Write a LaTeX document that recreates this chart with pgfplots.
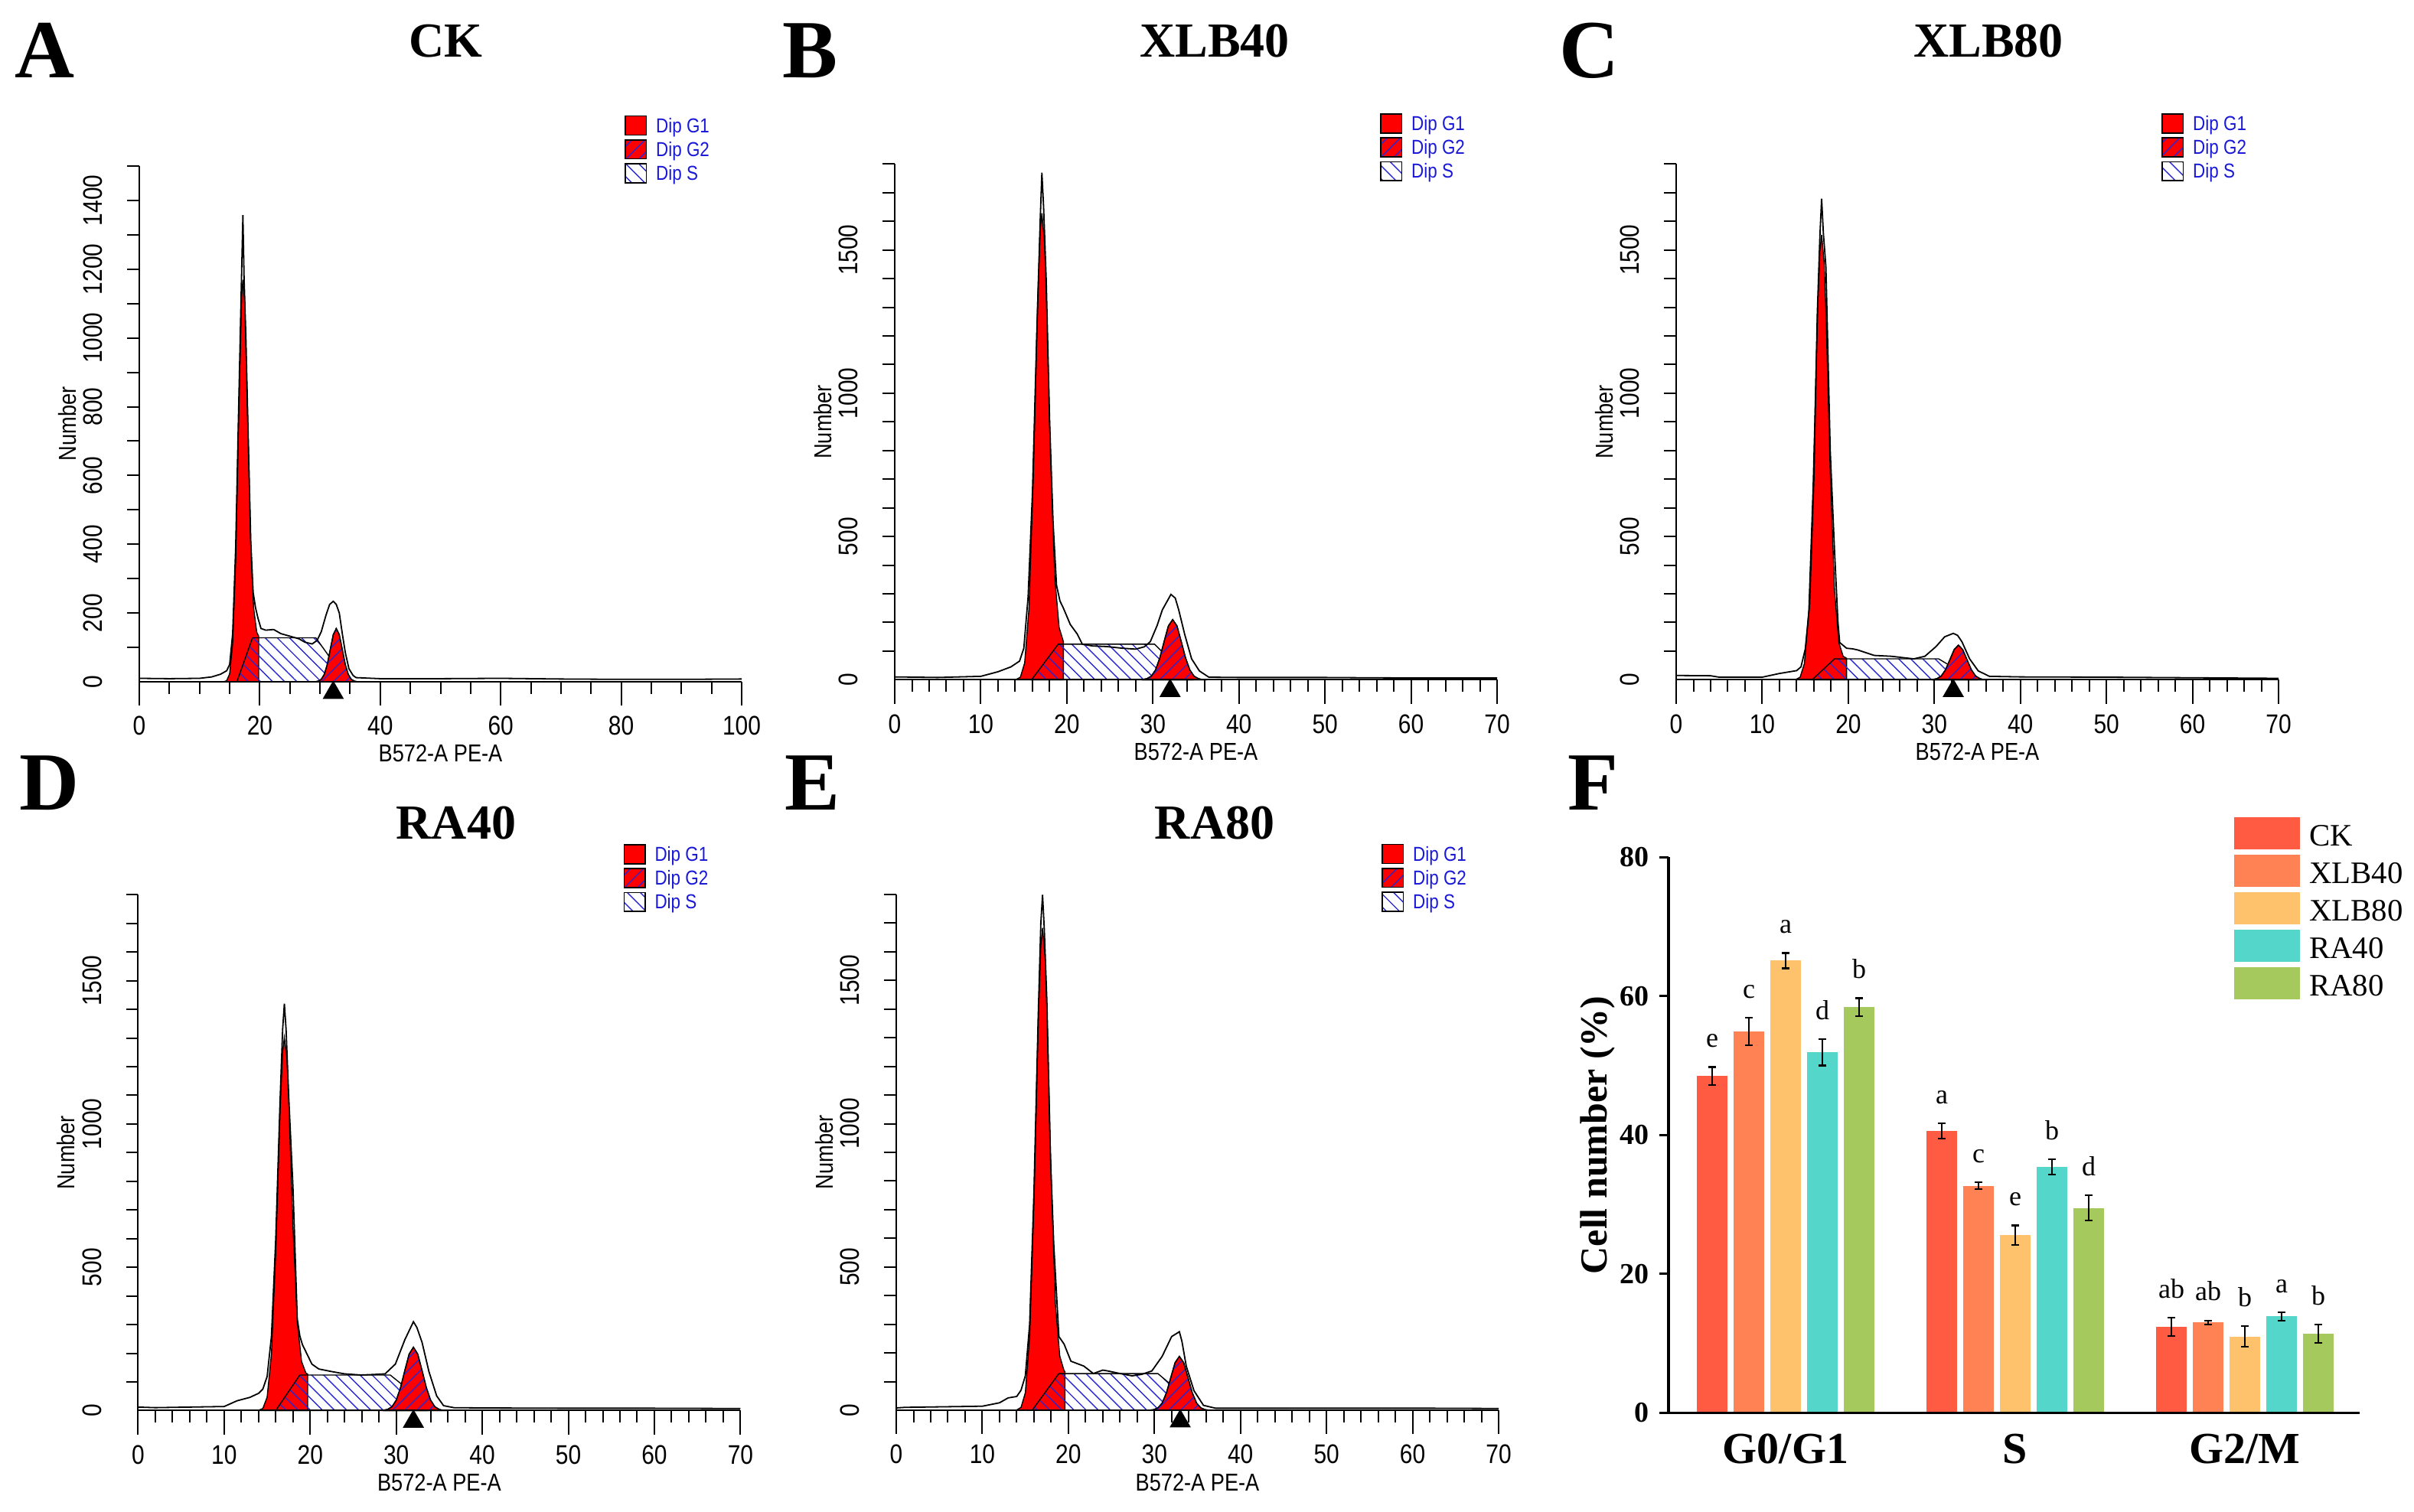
\documentclass[border=0pt]{standalone}
\usepackage{fontspec}
\setmainfont{Liberation Serif}
\newfontfamily\histfont[FakeStretch=0.85]{Liberation Sans}
\usepackage{pgfplots}
\pgfplotsset{compat=1.18}
\usepackage{pgfplotstable}
\usetikzlibrary{patterns.meta}

\definecolor{ckc}{RGB}{255,90,66}
\definecolor{x4c}{RGB}{255,130,84}
\definecolor{x8c}{RGB}{254,193,108}
\definecolor{r4c}{RGB}{84,214,202}
\definecolor{r8c}{RGB}{166,201,94}
\definecolor{legblue}{RGB}{25,25,215}
\definecolor{hatchblue}{RGB}{40,40,210}

% ---------------- histogram data ----------------
\pgfplotstableread{
x y
0 10
5 9
10 10
12 14
13.5 22
14.5 32
15 50
15.5 140
16 390
16.5 800
17 1200
17.2 1357
17.4 1170
17.7 1000
18 770
18.5 410
18.9 260
19.3 215
19.7 185
20.2 155
21 150
22.3 152
23.5 140
24.5 135
25.5 130
26.5 125
27.5 115
28.7 110
29.5 120
30.2 145
31 194
31.6 225
32.2 234
32.7 225
33.2 200
33.7 140
34.2 85
34.8 38
35.5 18
36 12
40 9
50 9
60 10
70 8
80 7
90 7
100 8
}\Ad
\pgfplotstableread{
x y
14 0
14.5 3
15 23
15.5 111
16 353
16.5 771
17 1123
17.2 1169
17.5 1105
18 760
18.5 402
18.8 272
19 212
19.5 144
19.8 133
19.8 0
}\Ag
\pgfplotstableread{
x y
16.2 0
18.8 128
29.3 128
31.1 84
33 35
34.5 0
}\As
\pgfplotstableread{
x y
29.2 0
29.7 2
30.2 7
30.7 21
31.2 50
31.7 94
32.2 137
32.7 155
33.2 137
33.7 94
34.2 50
34.7 21
35.2 7
35.7 2
36.2 0
}\Ah

\pgfplotstableread{
x y
0 10
5 8
10 12
12 28
13.5 45
14.5 65
15 110
15.5 290
16 650
16.5 1200
16.9 1600
17.1 1770
17.3 1650
17.6 1400
18 900
18.4 550
18.8 330
19.2 275
19.6 250
20.4 193
21.2 160
21.8 124
23 118
24.6 116
26.5 110
28 107
29 115
29.7 133
30.5 190
31.1 244
32.1 298
32.6 285
33 244
33.7 158
34.5 73
35.4 31
36.5 9
40 8
50 8
55 7
62 6
70 6
}\Bd
\pgfplotstableread{
x y
14.1 1
14.6 9
15.1 59
15.6 249
16.1 703
16.6 1314
16.9 1569
17.1 1628
17.4 1528
17.6 1354
18.1 783
18.6 357
19.1 183
19.6 133
19.6 0
}\Bg
\pgfplotstableread{
x y
15.9 0
19 124
30.2 124
31.5 85
33.2 32
34.5 0
}\Bs
\pgfplotstableread{
x y
28.8 1
29.3 4
29.8 12
30.3 34
30.8 76
31.3 133
31.8 188
32.3 210
32.8 188
33.3 133
33.8 76
34.3 34
34.8 12
35.3 4
35.8 0
}\Bh

\pgfplotstableread{
x y
0 15
4 14
5 9
10 9
12 22
14 32
14.5 45
15 107
15.5 260
16 700
16.4 1280
16.7 1550
16.9 1679
17.1 1560
17.4 1440
17.9 800
18.4 450
18.8 200
19 130
19.8 110
20.5 108
21.1 104
22 95
23 85
25 82
27.6 73
28.9 82
30.2 116
31.2 150
32.2 162
32.7 155
33.2 133
34.1 73
35.1 31
36.4 12
40 10
50 9
60 7
70 5
}\Cd
\pgfplotstableread{
x y
13.9 1
14.4 9
14.9 57
15.4 239
15.9 673
16.4 1256
16.7 1498
16.9 1553
17.2 1453
17.4 1284
17.9 729
18.4 312
18.9 130
19.4 82
19.8 75
19.8 0
}\Cg
\pgfplotstableread{
x y
15.8 0
18.4 73
30.5 73
31.5 55
33 25
34.8 0
}\Cs
\pgfplotstableread{
x y
29.8 1
30.3 4
30.8 13
31.3 35
31.8 70
32.3 105
32.8 121
33.3 105
33.8 70
34.3 35
34.8 13
35.3 4
35.8 0
}\Ch

\pgfplotstableread{
x y
0 12
2 10
10 14
11.5 34
13 46
14 60
14.5 75
15 119
15.5 260
16 600
16.5 1080
16.8 1330
17 1420
17.2 1330
17.5 1100
18 780
18.5 320
18.8 260
19.1 230
20.2 162
21 145
22.5 136
24 128
25.9 124
27.5 126
28.7 128
29.9 162
31 247
32 310
32.4 290
33 238
33.8 136
34.7 51
35.5 17
36.7 10
40 9
50 8
60 8
70 7
}\Dd
\pgfplotstableread{
x y
14 1
14.5 7
15 47
15.5 198
16 554
16.5 1046
16.8 1253
17 1302
17.3 1227
17.5 1090
18 643
18.5 309
19 171
19.5 131
19.7 127
19.7 0
}\Dg
\pgfplotstableread{
x y
16 0
18.8 124
29.3 124
30.5 95
32 50
33.5 0
}\Ds
\pgfplotstableread{
x y
28.5 1
29 4
29.5 13
30 36
30.5 80
31 140
31.5 197
32 221
32.5 197
33 140
33.5 80
34 36
34.5 13
35 4
35.5 0
}\Dh

\pgfplotstableread{
x y
0 8
1 10
10 14
12 26
13 43
14 48
14.5 70
15 120
15.5 300
16 760
16.5 1380
16.8 1700
17 1799
17.2 1680
17.5 1430
17.9 900
18.3 580
18.9 257
19.5 231
20.3 171
21.8 154
22.9 128
24 140
24.6 137
26 128
27.4 120
28.5 125
29.7 137
30.9 188
32 257
32.9 274
33.2 240
33.7 154
34.6 68
35.7 17
37.1 7
40 7
50 7
62 7
70 6
}\Ed
\pgfplotstableread{
x y
14 1
14.5 10
15 61
15.5 256
16 727
16.5 1358
16.8 1622
17 1683
17.3 1579
17.5 1399
18 810
18.5 368
19 189
19.5 138
19.6 135
19.6 0
}\Eg
\pgfplotstableread{
x y
15.8 0
18.9 128
30.4 128
31.5 100
33 50
34.5 0
}\Es
\pgfplotstableread{
x y
29.4 0
29.9 2
30.4 8
30.9 25
31.4 61
31.9 114
32.4 166
32.9 188
33.4 166
33.9 114
34.4 61
34.9 25
35.4 8
35.9 2
36.4 0
}\Eh

% ---------------- bar data ----------------
\pgfplotstableread{
x y err lab
-0.32 48.5 1.3 e
0.68 40.6 1.1 a
1.68 12.4 1.3 ab
}\tCK
\pgfplotstableread{
x y err lab
-0.16 54.9 2.0 c
0.84 32.7 0.5 c
1.84 13.0 0.3 ab
}\tXf
\pgfplotstableread{
x y err lab
0 65.1 1.1 a
1 25.6 1.4 e
2 11.0 1.5 b
}\tXe
\pgfplotstableread{
x y err lab
0.16 51.9 1.9 d
1.16 35.4 1.1 b
2.16 13.9 0.6 a
}\tRf
\pgfplotstableread{
x y err lab
0.32 58.4 1.3 b
1.32 29.5 1.8 d
2.32 11.4 1.3 b
}\tRe

\pgfplotsset{
  hist/.style={
    scale only axis, width=196.75pt, height=168.5pt,
    anchor=south west, clip=false, axis on top,
    axis x line=bottom, axis y line=left,
    axis line style={-, line width=0.5pt, black},
    tick align=outside,
    major tick length=7.8pt, minor tick length=3.9pt,
    tick style={line width=0.5pt, black},
    every major y tick/.append style={draw=none},
    extra y ticks={0}, extra y tick labels={},
    extra y tick style={draw=black, line width=0.5pt},
    xmin=0, ymin=0,
    /pgf/number format/assume math mode=true,
    /pgf/number format/1000 sep={},
    tick label style={font=\histfont\fontsize{8.8}{9}\selectfont},
    yticklabel style={rotate=90, anchor=south, yshift=0.6pt},
    xlabel={B572-A PE-A}, ylabel={Number},
    every axis x label/.style={at={([yshift=-23.5pt]axis description cs:0.5,0)}, anchor=center, font=\histfont\fontsize{8}{9}\selectfont},
    every axis y label/.style={at={([xshift=-23.6pt]axis description cs:0,0.5)}, anchor=center, rotate=90, font=\histfont\fontsize{8}{9}\selectfont},
    legend cell align=left,
    legend style={at={(0.805,1.10)}, anchor=north west, draw=none, fill=none,
      inner sep=0pt, row sep=1pt, font=\histfont\fontsize{6.6}{7}\selectfont,
      nodes={inner sep=0pt, text height=5.7pt, text depth=1.1pt, text=legblue},
      /tikz/every odd column/.append style={column sep=3pt}},
  },
  g1/.style={fill=red, draw=black, line width=0.35pt, forget plot},
  sS/.style={draw=black, line width=0.35pt, pattern={Lines[angle=-45,distance=2.8pt,line width=0.35pt]}, pattern color=hatchblue, forget plot},
  g2/.style={fill=red, draw=black, line width=0.35pt, postaction={pattern={Lines[angle=45,distance=2.8pt,line width=0.35pt]}, pattern color=hatchblue}, forget plot},
  dline/.style={black, line width=0.45pt, forget plot},
  tri/.style={only marks, mark=triangle*, mark size=3.6pt, black, mark options={yshift=-3.6pt}, forget plot},
  g1leg/.style={legend image code/.code={\filldraw[fill=red,draw=black,line width=0.4pt] (0pt,-3.1pt) rectangle (6.8pt,3.1pt);}},
  g2leg/.style={legend image code/.code={\filldraw[fill=red,draw=black,line width=0.4pt,postaction={pattern={Lines[angle=45,distance=3pt,line width=0.35pt]},pattern color=hatchblue}] (0pt,-3.1pt) rectangle (6.8pt,3.1pt);}},
  sleg/.style={legend image code/.code={\draw[black,line width=0.4pt,pattern={Lines[angle=-45,distance=3pt,line width=0.35pt]},pattern color=hatchblue] (0pt,-3.1pt) rectangle (6.8pt,3.1pt);}},
  fleg/.style={legend image code/.code={\fill[#1] (0pt,-5.1pt) rectangle (21.25pt,5.1pt);}},
  fbar/.style={ycomb, draw=#1, line width=10.1pt, forget plot,
    error bars/.cd, y dir=both, y explicit,
    error bar style={line width=0.6pt, black},
    error mark options={rotate=90, line width=0.6pt, black, mark size=1.3pt}},
}

\newcommand{\histlegend}{%
  \addlegendimage{g1leg}\addlegendentry{Dip G1}
  \addlegendimage{g2leg}\addlegendentry{Dip G2}
  \addlegendimage{sleg}\addlegendentry{Dip S}
}

\begin{document}
\begin{tikzpicture}
\path[use as bounding box] (0,0) rectangle (788.5pt,494pt);

% panel letters and titles
\begin{scope}[every node/.style={inner sep=0pt}]
\node[anchor=base west, font=\bfseries\fontsize{27}{30}\selectfont] at (4.75pt,468.5pt) {A};
\node[anchor=base west, font=\bfseries\fontsize{27}{30}\selectfont] at (255.5pt,468.5pt) {B};
\node[anchor=base west, font=\bfseries\fontsize{27}{30}\selectfont] at (509.25pt,468.5pt) {C};
\node[anchor=base west, font=\bfseries\fontsize{27}{30}\selectfont] at (6.25pt,229.25pt) {D};
\node[anchor=base west, font=\bfseries\fontsize{27}{30}\selectfont] at (256.25pt,229.25pt) {E};
\node[anchor=base west, font=\bfseries\fontsize{27}{30}\selectfont] at (512pt,229.25pt) {F};
\node[anchor=base, font=\bfseries\fontsize{16}{18}\selectfont] at (145.5pt,475.25pt) {CK};
\node[anchor=base, font=\bfseries\fontsize{16}{18}\selectfont] at (396.75pt,475.25pt) {XLB40};
\node[anchor=base, font=\bfseries\fontsize{16}{18}\selectfont] at (649.5pt,475.25pt) {XLB80};
\node[anchor=base, font=\bfseries\fontsize{16}{18}\selectfont] at (149pt,219.75pt) {RA40};
\node[anchor=base, font=\bfseries\fontsize{16}{18}\selectfont] at (396.75pt,219.75pt) {RA80};
\end{scope}

% A
\begin{axis}[hist, at={(45.5pt,271.25pt)}, xmax=100, ymax=1500,
  xtick={0,20,...,100}, minor xtick={0,5,...,100},
  ytick={0,200,...,1400}, minor ytick={100,200,...,1500}]
\histlegend
\addplot[g1] table {\Ag} \closedcycle;
\addplot[sS] table {\As} \closedcycle;
\addplot[g2] table {\Ah} \closedcycle;
\addplot[dline] table {\Ad};
\addplot[tri] coordinates {(32.2,0)};
\end{axis}

% B
\begin{axis}[hist, at={(292.25pt,271.9pt)}, xmax=70, ymax=1800,
  xtick={0,10,...,70}, minor xtick={0,2,...,70},
  ytick={0,500,1000,1500}, minor ytick={100,200,...,1800}]
\histlegend
\addplot[g1] table {\Bg} \closedcycle;
\addplot[sS] table {\Bs} \closedcycle;
\addplot[g2] table {\Bh} \closedcycle;
\addplot[dline] table {\Bd};
\addplot[tri] coordinates {(32,0)};
\end{axis}

% C
\begin{axis}[hist, at={(547.5pt,271.9pt)}, xmax=70, ymax=1800,
  xtick={0,10,...,70}, minor xtick={0,2,...,70},
  ytick={0,500,1000,1500}, minor ytick={100,200,...,1800}]
\histlegend
\addplot[g1] table {\Cg} \closedcycle;
\addplot[sS] table {\Cs} \closedcycle;
\addplot[g2] table {\Ch} \closedcycle;
\addplot[dline] table {\Cd};
\addplot[tri] coordinates {(32.2,0)};
\end{axis}

% D
\begin{axis}[hist, at={(45.1pt,33.15pt)}, xmax=70, ymax=1800,
  xtick={0,10,...,70}, minor xtick={0,2,...,70},
  ytick={0,500,1000,1500}, minor ytick={100,200,...,1800}]
\histlegend
\addplot[g1] table {\Dg} \closedcycle;
\addplot[sS] table {\Ds} \closedcycle;
\addplot[g2] table {\Dh} \closedcycle;
\addplot[dline] table {\Dd};
\addplot[tri] coordinates {(32,0)};
\end{axis}

% E
\begin{axis}[hist, at={(292.75pt,33.25pt)}, xmax=70, ymax=1800,
  xtick={0,10,...,70}, minor xtick={0,2,...,70},
  ytick={0,500,1000,1500}, minor ytick={100,200,...,1800}]
\histlegend
\addplot[g1] table {\Eg} \closedcycle;
\addplot[sS] table {\Es} \closedcycle;
\addplot[g2] table {\Eh} \closedcycle;
\addplot[dline] table {\Ed};
\addplot[tri] coordinates {(33,0)};
\end{axis}

% F
\begin{axis}[
  at={(545pt,32.375pt)}, anchor=south west,
  scale only axis, width=225.75pt, height=181.6pt,
  xmin=-0.51, xmax=2.5, ymin=0, ymax=80,
  axis on top, clip=false,
  axis x line=bottom, axis y line=left,
  axis line style={-, line width=0.8pt, black},
  tick align=outside, major tick length=2.9pt,
  tick style={line width=0.8pt, black},
  xtick={0,1,2}, xticklabels={G0/G1,S,G2/M},
  xtick style={draw=none},
  ytick={0,20,40,60,80},
  /pgf/number format/assume math mode=true,
  yticklabel style={font=\bfseries\fontsize{9.5}{10}\selectfont},
  xticklabel style={font=\bfseries\fontsize{14.5}{15}\selectfont, yshift=-0.5pt},
  ylabel={Cell number (\%)},
  every axis y label/.style={at={([xshift=-23.25pt]axis description cs:0,0.5)}, anchor=center, rotate=90, font=\bfseries\fontsize{12.5}{13}\selectfont},
  legend cell align=left,
  legend style={at={(0.817,1.073)}, anchor=north west, draw=none, fill=none,
    inner sep=0pt, row sep=1.65pt, font=\fontsize{10.2}{11}\selectfont,
    nodes={inner sep=0pt, text height=9.2pt, text depth=1pt},
    /tikz/every odd column/.append style={column sep=3pt}},
  nodes near coords, point meta=explicit symbolic,
  visualization depends on={\thisrow{err}\as\myerr},
  every node near coord/.append style={font=\fontsize{9}{10}\selectfont, anchor=south, inner sep=0.5pt, yshift=0.8pt, shift={(axis direction cs:0,\myerr)}},
]
\addlegendimage{fleg=ckc}\addlegendentry{CK}
\addlegendimage{fleg=x4c}\addlegendentry{XLB40}
\addlegendimage{fleg=x8c}\addlegendentry{XLB80}
\addlegendimage{fleg=r4c}\addlegendentry{RA40}
\addlegendimage{fleg=r8c}\addlegendentry{RA80}
\addplot[fbar=ckc] table[x=x,y=y,y error=err,meta=lab] {\tCK};
\addplot[fbar=x4c] table[x=x,y=y,y error=err,meta=lab] {\tXf};
\addplot[fbar=x8c] table[x=x,y=y,y error=err,meta=lab] {\tXe};
\addplot[fbar=r4c] table[x=x,y=y,y error=err,meta=lab] {\tRf};
\addplot[fbar=r8c] table[x=x,y=y,y error=err,meta=lab] {\tRe};
\end{axis}
\end{tikzpicture}
\end{document}
